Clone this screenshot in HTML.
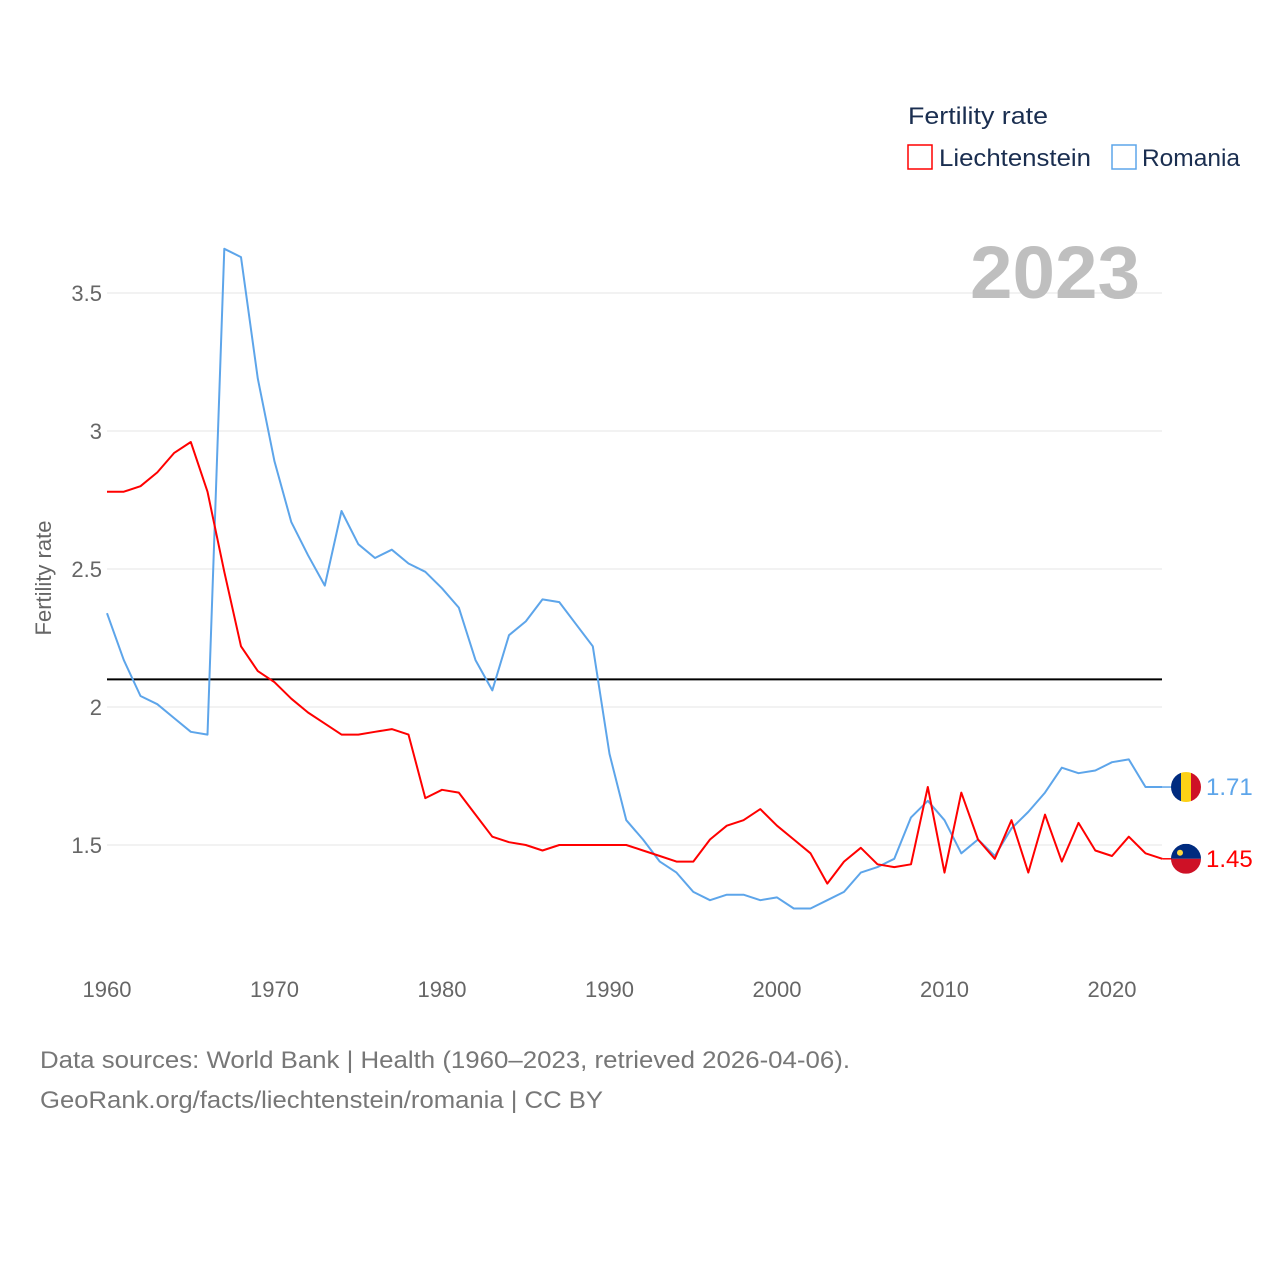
<!DOCTYPE html>
<html><head><meta charset="utf-8">
<style>
body{margin:0;background:#fff;font-family:"Liberation Sans",sans-serif;}
svg text{font-family:"Liberation Sans",sans-serif;}
</style></head>
<body>
<svg id="chart" width="1280" height="1280" viewBox="0 0 1280 1280">
  <g id="grid"></g>
  <g id="axes"></g>
  <text x="1140" y="298" text-anchor="end" font-size="74" font-weight="bold" fill="#bfbfbf" textLength="170" lengthAdjust="spacingAndGlyphs">2023</text>
  <text transform="translate(51,578) rotate(-90)" text-anchor="middle" font-size="22" fill="#666">Fertility rate</text>
  <g>
    <text x="908" y="124" font-size="24" fill="#1a2e50" textLength="140" lengthAdjust="spacingAndGlyphs">Fertility rate</text>
    <g>
      <rect x="908" y="145" width="24" height="24" fill="none" stroke="#f00" stroke-width="1.5"/>
      <text x="939" y="166" font-size="24" fill="#1a2e50" textLength="152" lengthAdjust="spacingAndGlyphs">Liechtenstein</text>
    </g>
    <g>
      <rect x="1112" y="145" width="24" height="24" fill="none" stroke="#5da5ea" stroke-width="1.5"/>
      <text x="1142" y="166" font-size="24" fill="#1a2e50" textLength="98" lengthAdjust="spacingAndGlyphs">Romania</text>
    </g>
  </g>
  <g id="series"></g>
  <g id="ends"></g>
  <text x="40" y="1068" font-size="24" fill="#777" textLength="810" lengthAdjust="spacingAndGlyphs">Data sources: World Bank | Health (1960–2023, retrieved 2026-04-06).</text>
  <text x="40" y="1108" font-size="24" fill="#777" textLength="563" lengthAdjust="spacingAndGlyphs">GeoRank.org/facts/liechtenstein/romania | CC BY</text>
</svg>
<script>
const years = [];
for (let y = 1960; y <= 2023; y++) years.push(y);
const liechtenstein = [2.78,2.78,2.80,2.85,2.92,2.96,2.78,2.49,2.22,2.13,2.09,2.03,1.98,1.94,1.90,1.90,1.91,1.92,1.90,1.67,1.70,1.69,1.61,1.53,1.51,1.50,1.48,1.50,1.50,1.50,1.50,1.50,1.48,1.46,1.44,1.44,1.52,1.57,1.59,1.63,1.57,1.52,1.47,1.36,1.44,1.49,1.43,1.42,1.43,1.71,1.40,1.69,1.52,1.45,1.59,1.40,1.61,1.44,1.58,1.48,1.46,1.53,1.47,1.45];
const romania = [2.34,2.17,2.04,2.01,1.96,1.91,1.90,3.66,3.63,3.19,2.89,2.67,2.55,2.44,2.71,2.59,2.54,2.57,2.52,2.49,2.43,2.36,2.17,2.06,2.26,2.31,2.39,2.38,2.30,2.22,1.83,1.59,1.52,1.44,1.40,1.33,1.30,1.32,1.32,1.30,1.31,1.27,1.27,1.30,1.33,1.40,1.42,1.45,1.60,1.66,1.59,1.47,1.52,1.46,1.56,1.62,1.69,1.78,1.76,1.77,1.80,1.81,1.71,1.71];
const yTicks = [1.5,2,2.5,3,3.5];
const yTickLabels = ["1.5","2","2.5","3","3.5"];
const xTicks = [1960,1970,1980,1990,2000,2010,2020];
const replacement = 2.1;

const NS = "http://www.w3.org/2000/svg";
const X = yr => 107 + (yr - 1960) * 16.75;
const Y = v => 707 - (v - 2) * 276;
function mk(tag, attrs, parent){const e=document.createElementNS(NS,tag);for(const k in attrs)e.setAttribute(k,attrs[k]);parent.appendChild(e);return e;}
const grid=document.getElementById('grid'), axes=document.getElementById('axes'), series=document.getElementById('series'), ends=document.getElementById('ends');

yTicks.forEach((v,i)=>{
  const l=mk('line',{x1:107,x2:1162,y1:Y(v),y2:Y(v),stroke:'#e6e6e6','stroke-width':1},grid);
  
  
  const t=mk('text',{x:102,y:Y(v)+8,'text-anchor':'end','font-size':22,fill:'#666'},axes);
  t.textContent=yTickLabels[i];
  
  
});
xTicks.forEach(yr=>{
  const t=mk('text',{x:X(yr),y:997,'text-anchor':'middle','font-size':22,fill:'#666'},axes);
  t.textContent=yr;
  
  
});
const ref=mk('line',{x1:107,x2:1162,y1:Y(replacement),y2:Y(replacement),stroke:'#000','stroke-width':2},series);



function line(data,color,name){
  const d=data.map((v,i)=>(i?'L':'M')+X(years[i]).toFixed(1)+','+Y(v).toFixed(1)).join(' ');
  const p=mk('path',{d:d,fill:'none',stroke:color,'stroke-width':2,'stroke-linejoin':'round'},series);
  
  
  const last=data[data.length-1], lx=X(years[years.length-1]), ly=Y(last);
  const tail=mk('line',{x1:lx,x2:1172,y1:ly,y2:ly,stroke:color,'stroke-width':1.5},ends);
  
  
  return {ly,last};
}
const ro=line(romania,'#5da5ea','romania-line');
const li=line(liechtenstein,'#f00','liechtenstein-line');

(function(){
  const g=mk('g',{},ends);
  
  
  const cy=ro.ly, cx=1186;
  const cp=mk('clipPath',{id:'cro'},g); mk('circle',{cx:cx,cy:cy,r:15},cp);
  const gg=mk('g',{'clip-path':'url(#cro)'},g);
  mk('rect',{x:cx-15,y:cy-15,width:10,height:30,fill:'#002b7f'},gg);
  mk('rect',{x:cx-5,y:cy-15,width:10,height:30,fill:'#fcd116'},gg);
  mk('rect',{x:cx+5,y:cy-15,width:10,height:30,fill:'#ce1126'},gg);
  const t=mk('text',{x:1206,y:cy+8,'font-size':24,fill:'#5da5ea'},ends);
  t.textContent=ro.last.toFixed(2);
  
  
})();
(function(){
  const g=mk('g',{},ends);
  
  
  const cy=li.ly, cx=1186;
  const cp=mk('clipPath',{id:'cli'},g); mk('circle',{cx:cx,cy:cy,r:15},cp);
  const gg=mk('g',{'clip-path':'url(#cli)'},g);
  mk('rect',{x:cx-15,y:cy-15,width:30,height:15,fill:'#002b7f'},gg);
  mk('rect',{x:cx-15,y:cy,width:30,height:15,fill:'#ce1126'},gg);
  mk('circle',{cx:cx-6,cy:cy-6,r:3,fill:'#ffd83d'},gg);
  const t=mk('text',{x:1206,y:cy+8,'font-size':24,fill:'#f00'},ends);
  t.textContent=li.last.toFixed(2);
  
  
})();
</script>
</body></html>
